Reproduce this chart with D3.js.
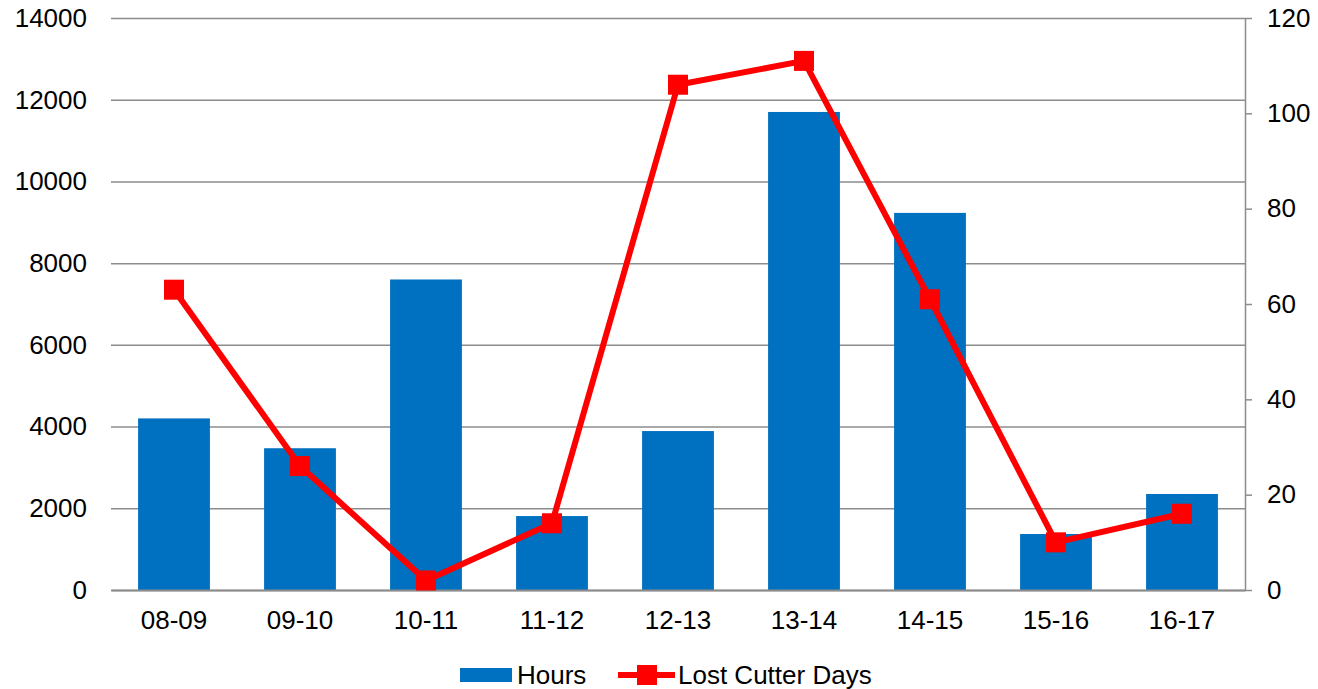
<!DOCTYPE html>
<html>
<head>
<meta charset="utf-8">
<script src="https://cdn.jsdelivr.net/npm/d3@7.9.0/dist/d3.min.js"></script>
<style>
  html, body { margin: 0; padding: 0; background: #fff; }
  svg { display: block; font-family: "Liberation Sans", Arial, sans-serif; }
</style>
</head>
<body>
<div id="chart"></div>
<script>
// chart data
const seasons = ['08-09', '09-10', '10-11', '11-12', '12-13', '13-14', '14-15', '15-16', '16-17'];
const hours = [4200, 3470, 7600, 1810, 3890, 11700, 9230, 1370, 2350];
const lostDays = [63, 26, 2, 14, 106, 111, 61, 10, 16];
const leftTicks = [0, 2000, 4000, 6000, 8000, 10000, 12000, 14000];
const rightTicks = [0, 20, 40, 60, 80, 100, 120];

const width = 1318, height = 689;
const margin = { top: 18, right: 73, bottom: 99, left: 111 };
const plot = {
  left: margin.left,
  right: width - margin.right,
  top: margin.top,
  bottom: height - margin.bottom,
};

const blue = '#0070c0';
const red = '#ff0000';
const gridColor = '#8c8c8c';
const fontSize = '26px';

const svg = d3.select('#chart').append('svg')
  .attr('width', width).attr('height', height);

const x = d3.scaleBand().domain(seasons).range([plot.left, plot.right]).paddingInner(0.43).paddingOuter(0.215);
const yL = d3.scaleLinear().domain([0, 14000]).range([plot.bottom, plot.top]);
const yR = d3.scaleLinear().domain([0, 120]).range([plot.bottom, plot.top]);

// gridlines
svg.append('g').attr('class', 'grid')
  .attr('transform', `translate(${plot.left},0)`)
  .call(d3.axisLeft(yL).tickValues(leftTicks).tickFormat('').tickSize(-(plot.right - plot.left)))
  .call(g => g.select('.domain').remove())
  .call(g => g.selectAll('line').attr('stroke', gridColor).attr('stroke-width', 1.5));

// bars
svg.append('g').selectAll('rect')
  .data(hours).join('rect')
  .attr('x', (d, i) => x(seasons[i]))
  .attr('y', d => yL(d))
  .attr('width', x.bandwidth())
  .attr('height', d => yL(0) - yL(d))
  .attr('fill', blue);

// left axis labels
svg.append('g')
  .attr('transform', `translate(${plot.left},0)`)
  .call(d3.axisLeft(yL).tickValues(leftTicks).tickSize(0).tickPadding(24).tickFormat(d3.format('d')))
  .call(g => g.select('.domain').remove())
  .call(g => g.selectAll('text').attr('fill', '#000').style('font-size', fontSize)
    .style('font-family', '"Liberation Sans", Arial, sans-serif'));

// right axis
svg.append('g')
  .attr('transform', `translate(${plot.right},0)`)
  .call(d3.axisRight(yR).tickValues(rightTicks).tickSize(7).tickPadding(15).tickSizeOuter(0))
  .call(g => g.select('.domain').attr('stroke', gridColor).attr('stroke-width', 1.5))
  .call(g => g.selectAll('line').attr('stroke', gridColor).attr('stroke-width', 1.5))
  .call(g => g.selectAll('text').attr('fill', '#000').style('font-size', fontSize)
    .style('font-family', '"Liberation Sans", Arial, sans-serif'));

// bottom axis
svg.append('g')
  .attr('transform', `translate(0,${plot.bottom})`)
  .call(d3.axisBottom(x).tickSize(0).tickPadding(21).tickSizeOuter(0))
  .call(g => g.select('.domain').attr('stroke', gridColor).attr('stroke-width', 2))
  .call(g => g.selectAll('text').attr('fill', '#000').style('font-size', fontSize)
    .style('font-family', '"Liberation Sans", Arial, sans-serif'));

// line series
const line = d3.line()
  .x((d, i) => x(seasons[i]) + x.bandwidth() / 2)
  .y(d => yR(d));

svg.append('path')
  .datum(lostDays)
  .attr('d', line)
  .attr('fill', 'none')
  .attr('stroke', red)
  .attr('stroke-width', 6)
  .attr('stroke-linejoin', 'round');

const ms = 20;
svg.append('g').selectAll('rect')
  .data(lostDays).join('rect')
  .attr('x', (d, i) => x(seasons[i]) + x.bandwidth() / 2 - ms / 2)
  .attr('y', d => yR(d) - ms / 2)
  .attr('width', ms).attr('height', ms)
  .attr('fill', red);

// legend
const legend = svg.append('g').attr('transform', 'translate(0,675)');
legend.append('rect').attr('x', 460).attr('y', -7).attr('width', 52).attr('height', 14).attr('fill', blue);
legend.append('text').attr('x', 517).attr('y', 0).attr('dy', '0.35em')
  .style('font-size', fontSize).text('Hours');
legend.append('line').attr('x1', 618).attr('x2', 675).attr('y1', 0).attr('y2', 0)
  .attr('stroke', red).attr('stroke-width', 6);
legend.append('rect').attr('x', 637).attr('y', -10).attr('width', 20).attr('height', 20).attr('fill', red);
legend.append('text').attr('x', 678).attr('y', 0).attr('dy', '0.35em')
  .style('font-size', fontSize).text('Lost Cutter Days');
</script>
</body>
</html>
